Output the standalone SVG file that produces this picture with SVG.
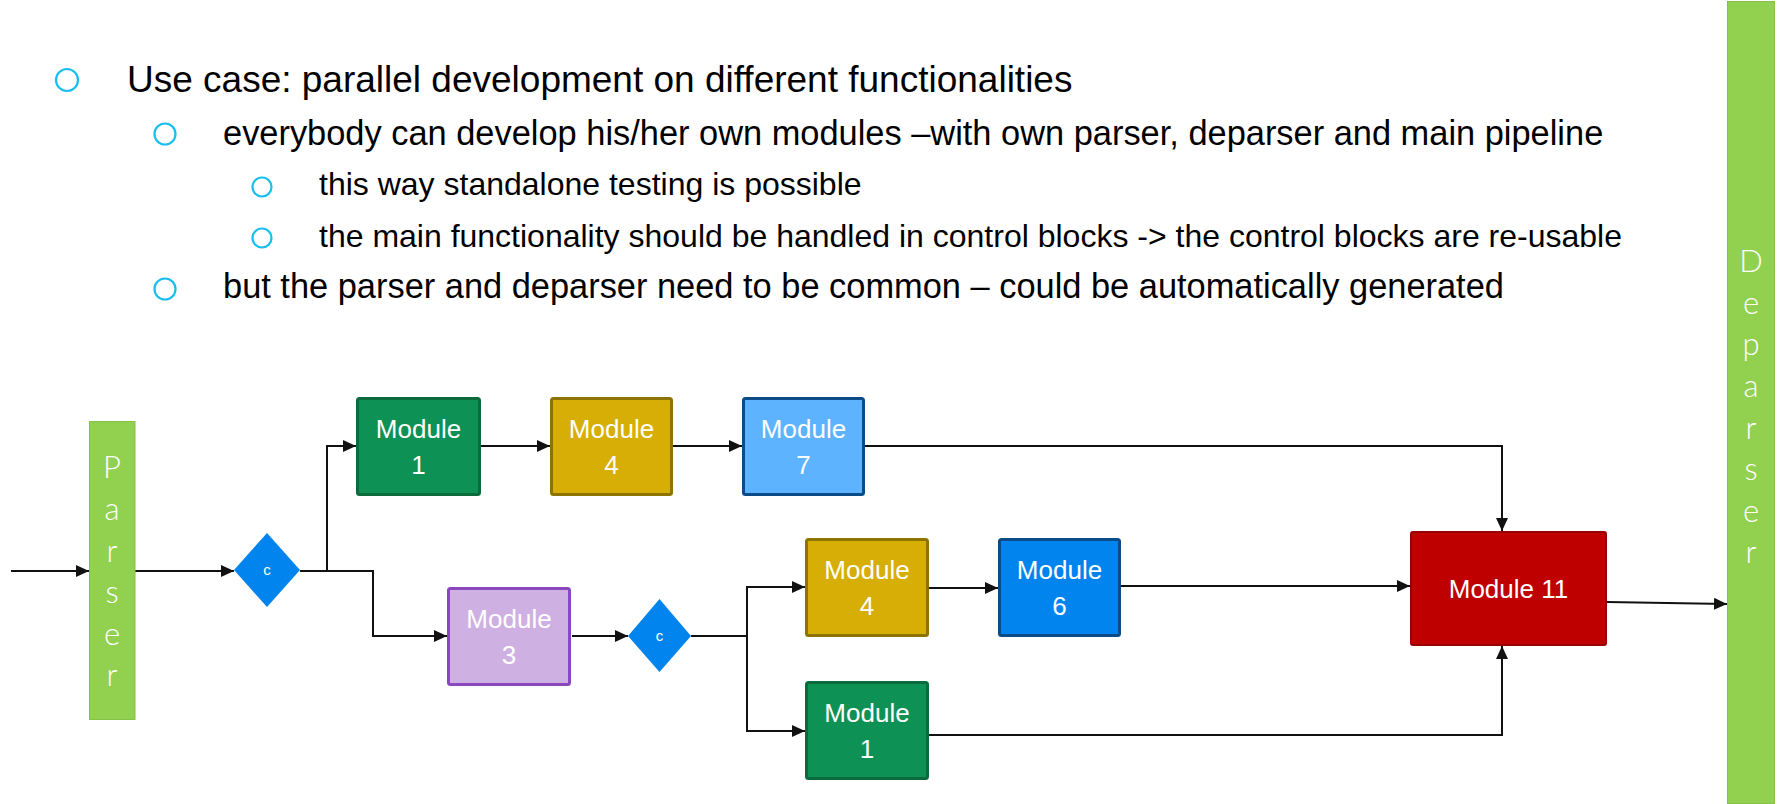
<svg xmlns="http://www.w3.org/2000/svg" width="1777" height="804" viewBox="0 0 1777 804">
<defs>
<marker id="ah" markerUnits="userSpaceOnUse" markerWidth="14" markerHeight="12" refX="13" refY="6" orient="auto">
<path d="M0,0 L13,6 L0,12 Z" fill="#111"/>
</marker>
<style>
.bul{fill:none;stroke:#17BEEF;stroke-width:2.2}
.t1{font-family:"Liberation Sans",Arial,sans-serif;font-size:37px;fill:#000}
.t2{font-family:"Liberation Sans",Arial,sans-serif;font-size:34.4px;fill:#000}
.t3{font-family:"Liberation Sans",Arial,sans-serif;font-size:32px;fill:#000}
.mod{stroke-width:3}
.ml{font-family:"Liberation Sans",Arial,sans-serif;font-size:26px;fill:#fff;text-anchor:middle}
.vl{font-family:Lato,"DejaVu Sans",sans-serif;font-size:31px;fill:#fff;text-anchor:middle;font-weight:300}
.bar{fill:#92D050;stroke:#86C046;stroke-width:1}
.dia{fill:#0284EE}
.dl{font-family:"Liberation Sans",Arial,sans-serif;font-size:15px;fill:#fff;text-anchor:middle}
.con{fill:none;stroke:#111;stroke-width:2;marker-end:url(#ah)}
</style>
</defs>
<rect width="1777" height="804" fill="#fff"/>

<g id="bullets">
<circle class="bul" cx="67" cy="80" r="11"/>
<text class="t1" x="127" y="92">Use case: parallel development on different functionalities</text>
<circle class="bul" cx="165" cy="134" r="10.5"/>
<text class="t2" x="223" y="145">everybody can develop his/her own modules –with own parser, deparser and main pipeline</text>
<circle class="bul" cx="262" cy="187" r="9.5"/>
<text class="t3" x="319" y="195">this way standalone testing is possible</text>
<circle class="bul" cx="262" cy="238" r="9.5"/>
<text class="t3" x="319" y="246.5">the main functionality should be handled in control blocks -&gt; the control blocks are re-usable</text>
<circle class="bul" cx="165" cy="289" r="10.5"/>
<text class="t2" x="223" y="298">but the parser and deparser need to be common – could be automatically generated</text>
</g>

<g id="connectors">
<path class="con" d="M11,571 H89"/>
<path class="con" d="M135,571 H234"/>
<path class="con" d="M300,571 H327 V446 H356"/>
<path class="con" d="M300,571 H373 V636 H447"/>
<path class="con" d="M481,446 H550"/>
<path class="con" d="M673,446 H742"/>
<path class="con" d="M865,446 H1502 V531"/>
<path class="con" d="M572,636 H628"/>
<path class="con" d="M691,636 H747 V587 H805"/>
<path class="con" d="M691,636 H747 V731 H805"/>
<path class="con" d="M929,588 H998"/>
<path class="con" d="M1121,586 H1410"/>
<path class="con" d="M929,735 H1502 V646"/>
<path class="con" d="M1607,602 L1727,604"/>
</g>

<g id="parser">
<rect class="bar" x="89.5" y="421.5" width="45.5" height="298"/>
<text class="vl" x="112" y="478">P</text>
<text class="vl" x="112" y="520">a</text>
<text class="vl" x="112" y="562">r</text>
<text class="vl" x="112" y="603">s</text>
<text class="vl" x="112" y="645">e</text>
<text class="vl" x="112" y="686">r</text>
</g>

<g id="deparser">
<rect class="bar" x="1727.5" y="1.5" width="47" height="802"/>
<text class="vl" x="1751" y="272">D</text>
<text class="vl" x="1751" y="314">e</text>
<text class="vl" x="1751" y="355">p</text>
<text class="vl" x="1751" y="397">a</text>
<text class="vl" x="1751" y="439">r</text>
<text class="vl" x="1751" y="480">s</text>
<text class="vl" x="1751" y="522">e</text>
<text class="vl" x="1751" y="563">r</text>
</g>

<g id="cond1">
<path class="dia" d="M267,533 L300,570 L267,607 L234,570 Z"/>
<text class="dl" x="267" y="575">c</text>
</g>

<g id="cond2">
<path class="dia" d="M659.5,599 L691,636 L659.5,672 L628,636 Z"/>
<text class="dl" x="659.5" y="641">c</text>
</g>

<g id="module1a">
<rect class="mod" x="357.5" y="398.5" width="122" height="96" rx="2" fill="#0E9155" stroke="#0B6B3C"/>
<text class="ml" x="418.5" y="438">Module</text>
<text class="ml" x="418.5" y="474">1</text>
</g>

<g id="module4a">
<rect class="mod" x="551.5" y="398.5" width="120" height="96" rx="2" fill="#D6AE05" stroke="#8D7300"/>
<text class="ml" x="611.5" y="438">Module</text>
<text class="ml" x="611.5" y="474">4</text>
</g>

<g id="module7">
<rect class="mod" x="743.5" y="398.5" width="120" height="96" rx="2" fill="#5EB3FF" stroke="#0B4C88"/>
<text class="ml" x="803.5" y="438">Module</text>
<text class="ml" x="803.5" y="474">7</text>
</g>

<g id="module3">
<rect class="mod" x="448.5" y="588.5" width="121" height="96" rx="2" fill="#CFB0E2" stroke="#8B48BE"/>
<text class="ml" x="509" y="628">Module</text>
<text class="ml" x="509" y="664">3</text>
</g>

<g id="module4b">
<rect class="mod" x="806.5" y="539.5" width="121" height="96" rx="2" fill="#D6AE05" stroke="#8D7300"/>
<text class="ml" x="867" y="579">Module</text>
<text class="ml" x="867" y="615">4</text>
</g>

<g id="module6">
<rect class="mod" x="999.5" y="539.5" width="120" height="96" rx="2" fill="#0284EE" stroke="#0B4C88"/>
<text class="ml" x="1059.5" y="579">Module</text>
<text class="ml" x="1059.5" y="615">6</text>
</g>

<g id="module1b">
<rect class="mod" x="806.5" y="682.5" width="121" height="96" rx="2" fill="#0E9155" stroke="#0B6B3C"/>
<text class="ml" x="867" y="722">Module</text>
<text class="ml" x="867" y="758">1</text>
</g>

<g id="module11">
<rect x="1411" y="532" width="195" height="113" rx="2" fill="#BE0000" stroke="#9A0000" stroke-width="2"/>
<text class="ml" x="1508.5" y="598">Module 11</text>
</g>
</svg>
